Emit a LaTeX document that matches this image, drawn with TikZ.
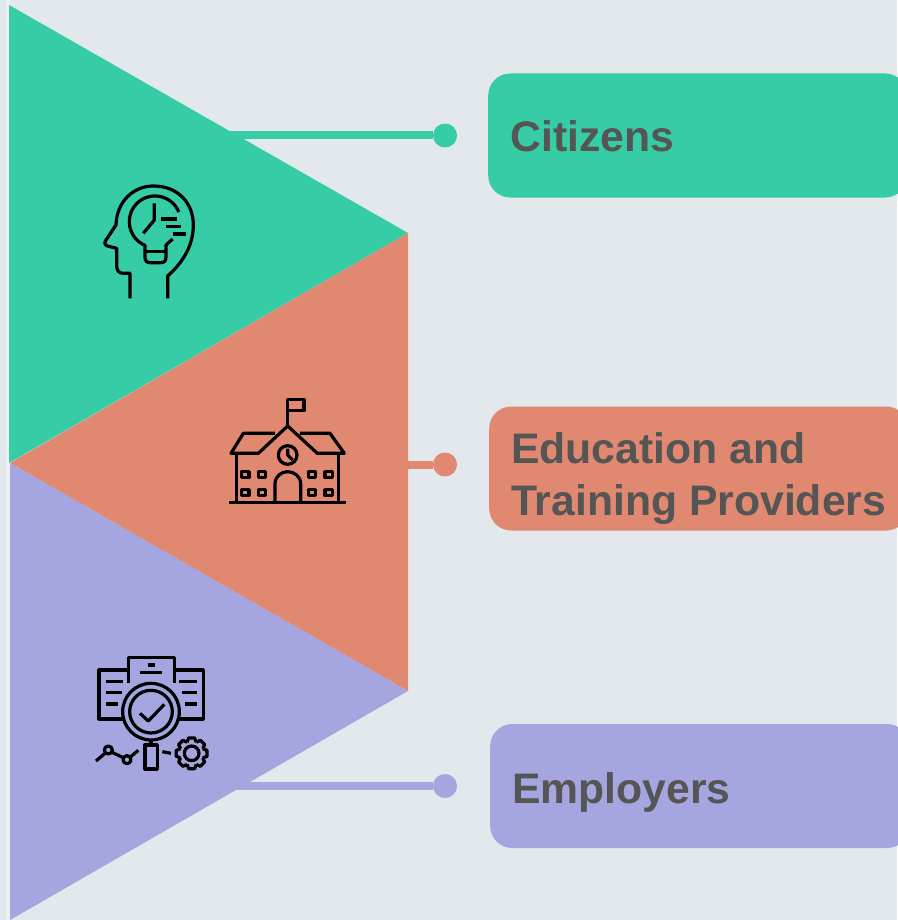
\documentclass[tikz,border=0pt]{standalone}
\usepackage{fontspec}
\setmainfont{Liberation Sans}
\definecolor{bgc}{HTML}{E2E8EC}
\definecolor{edge}{HTML}{EEF1F4}
\definecolor{grn}{HTML}{36CCA5}
\definecolor{org}{HTML}{E08870}
\definecolor{pur}{HTML}{A5A5E0}
\definecolor{txt}{HTML}{555555}
\tikzset{
 pill/.style={rounded corners=22pt,minimum width=419pt,minimum height=124pt,inner sep=0pt,anchor=west},
 lbl/.style={inner sep=0pt,anchor=base west,text=txt,font=\fontsize{42.7}{52}\selectfont\bfseries},
 dot/.style={circle,minimum size=24pt,inner sep=0pt},
 lnk/.style={line width=8pt},
 ico/.style={line width=3.2pt,black,line cap=butt,line join=round},
}
\begin{document}
\begin{tikzpicture}[x=1pt,y=-1pt]
\useasboundingbox (0,0) rectangle (897,920);
\fill[bgc] (0,0) rectangle (897,920);
\fill[edge] (6,0) rectangle (10,920);
\node[dot,fill=grn] (d1) at (445,135.5) {};
\node[dot,fill=org] (d2) at (445,464.5) {};
\node[dot,fill=pur] (d3) at (445,786) {};
\coordinate (c1) at (225,135.5);
\coordinate (c2) at (400,464.5);
\coordinate (c3) at (232,786);
\draw[lnk,grn] (c1) -- (d1);
\draw[lnk,org] (c2) -- (d2);
\draw[lnk,pur] (c3) -- (d3);
\fill[grn] (9,5) -- (408,233) -- (9,463) -- cycle;
\fill[org] (10,463) -- (408,233) -- (408,691) -- cycle;
\fill[pur] (10,463) -- (408,691) -- (10,920) -- cycle;
\node[pill,fill=grn] (b1) at (488,135.5) {};
\node[pill,fill=org] (b2) at (489,468.5) {};
\node[pill,fill=pur] (b3) at (490,786) {};
\node[lbl] (t1) at (510.5,152) {Citizens};
\node[lbl] (t2a) at (511,463) {Education and};
\node[lbl] (t2b) at (511,515) {Training Providers};
\node[lbl] (t3) at (512,803) {Employers};
% head
\begin{scope}[shift={(90,170)},x=0.3333pt,y=-0.3333pt,ico]
\draw (120,385) -- (120,310) -- (100,310) .. controls (85,310) and (80,300) .. (80,285) -- (80,235) -- (52,228) .. controls (42,225) and (43,215) .. (50,207) -- (78,165) .. controls (80,95) and (130,48) .. (190,48) .. controls (265,48) and (310,100) .. (310,165) .. controls (310,235) and (270,285) .. (233,318) -- (233,385);
\draw plot[domain=-22:-247,samples=46,smooth] ({195+77*cos(\x)},{155+77*sin(\x)}) -- (165,262) .. controls (165,272) and (170,278) .. (180,278) -- (213,278) .. controls (223,278) and (228,272) .. (228,262) -- (228,225) -- (248,207);
\draw (165,245) -- (228,245);
\draw (193,100) -- (193,150) -- (160,190);
\draw (213,147) -- (262,147);
\draw (228,170) -- (274,170);
\draw (248,192) -- (287,192);
\end{scope}
% school
\begin{scope}[shift={(220,390)},x=0.3333pt,y=-0.3333pt,ico]
\draw (203,105) -- (203,28) -- (252,28) -- (252,62) -- (203,62);
\draw (165,130) -- (70,130) -- (33,190) -- (115,190) -- (203,108) -- (292,190) -- (373,190) -- (330,130) -- (240,130);
\draw (50,190) -- (50,338);
\draw (355,190) -- (355,338);
\draw (28,338) -- (378,338);
\draw (203,195) circle[radius=28];
\draw (203,176) -- (203,195) -- (218,210);
\draw (165,338) -- (165,282) .. controls (165,258) and (185,245) .. (203,245) .. controls (222,245) and (242,258) .. (242,282) -- (242,338);
\foreach \px in {76,126,276,326}{\foreach \py in {254,308}{\draw (\px-11,\py-9) rectangle (\px+11,\py+9);}}
\end{scope}
% employers
\begin{scope}[shift={(85,645)},x=0.3333pt,y=-0.3333pt,ico]
\draw (130,115) -- (130,38) -- (268,38) -- (268,115);
\draw (130,75) -- (42,75) -- (42,222) -- (115,222);
\draw (268,75) -- (355,75) -- (355,222) -- (280,222);
\draw (62,110) -- (115,110) (62,143) -- (110,143) (62,177) -- (98,177);
\draw (283,110) -- (337,110) (290,143) -- (337,143) (300,177) -- (337,177);
\draw (188,60) -- (210,60) (165,83) -- (232,83);
\draw (198,200) circle[radius=85] (198,200) circle[radius=64];
\draw (165,205) -- (190,228) -- (238,178);
\draw (198,285) -- (198,300);
\draw (180,300) rectangle (217,372);
\draw (33,348) -- (60,325) (70,315) circle[radius=12] (81,322) -- (115,338) (126,344) circle[radius=12] (137,335) -- (160,316);
\draw (232,320) -- (258,325);
\draw (320,325) circle[radius=22];
\foreach \a in {0,45,...,315}{
 \draw ({320+36*cos(\a-22.5)},{325+36*sin(\a-22.5)}) -- ({320+47*cos(\a-11)},{325+47*sin(\a-11)}) -- ({320+47*cos(\a+11)},{325+47*sin(\a+11)}) -- ({320+36*cos(\a+22.5)},{325+36*sin(\a+22.5)});
}
\end{scope}
\end{tikzpicture}
\end{document}
